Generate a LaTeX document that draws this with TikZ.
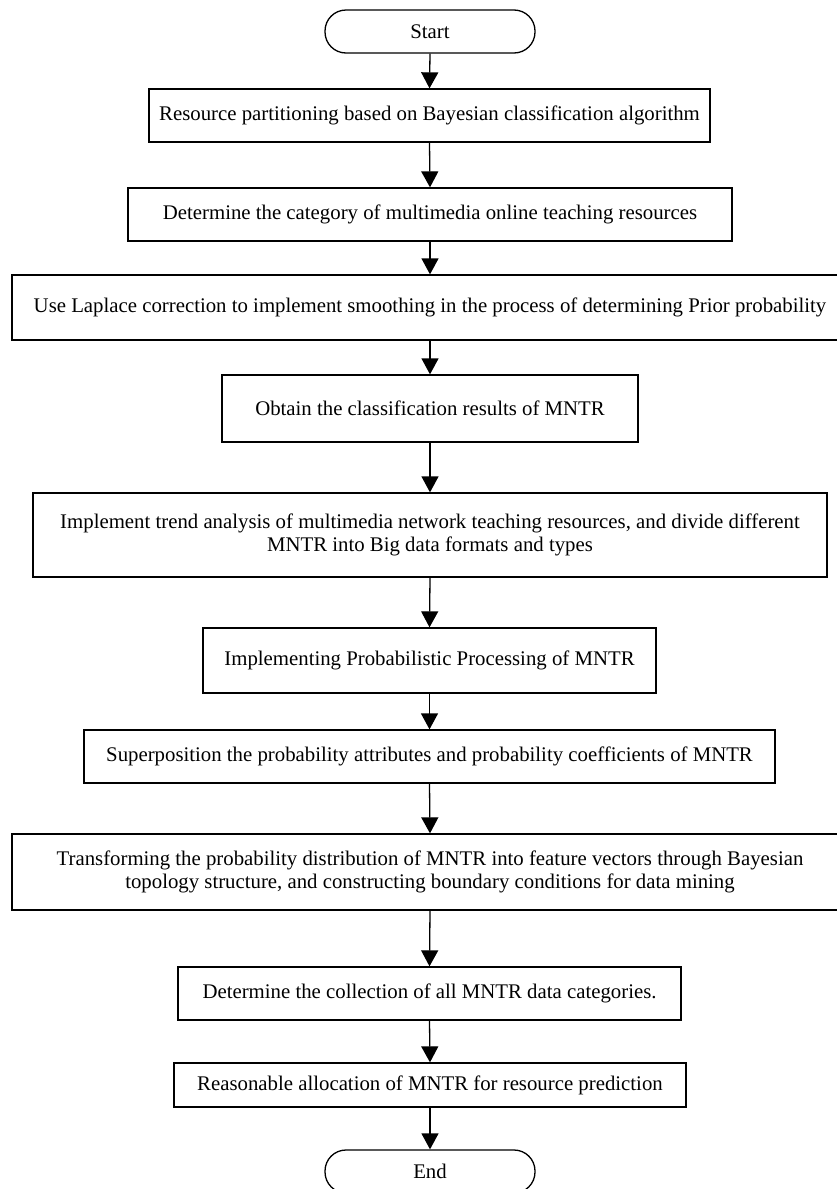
\documentclass[tikz,border=0pt]{standalone}
\usepackage{fontspec}
\setmainfont{Liberation Serif}
\usetikzlibrary{arrows.meta}
\begin{document}
\begin{tikzpicture}[x=1pt,y=-1pt,
  box/.style={draw, line width=1.3pt, inner sep=0pt, align=center, font=\fontsize{20.8}{23.5}\selectfont},
  term/.style={box, rounded corners=21pt},
  arr/.style={-{Triangle[width=17pt,length=16pt]}, line width=1.3pt}]
\useasboundingbox (0,0) rectangle (836,1189);
\node[term, minimum width=210pt, minimum height=43pt] (start) at (430,31.5) {Start};
\node[box, minimum width=561pt, minimum height=53pt] (b1) at (429.5,115.5) {Resource partitioning based on Bayesian classification algorithm};
\node[box, minimum width=604pt, minimum height=53pt] (b2) at (430,214.5) {Determine the category of multimedia online teaching resources};
\node[box, minimum width=836pt, minimum height=65pt] (b3) at (430,307.5) {Use Laplace correction to implement smoothing in the process of determining Prior probability};
\node[box, minimum width=416pt, minimum height=67pt] (b4) at (430,408.5) {Obtain the classification results of MNTR};
\node[box, minimum width=794pt, minimum height=84pt] (b5) at (430,535) {Implement trend analysis of multimedia network teaching resources, and divide different\\MNTR into Big data formats and types};
\node[box, minimum width=453pt, minimum height=65pt] (b6) at (429.5,660.5) {Implementing Probabilistic Processing of MNTR};
\node[box, minimum width=691pt, minimum height=53pt] (b7) at (429.5,756.5) {Superposition the probability attributes and probability coefficients of MNTR};
\node[box, minimum width=836pt, minimum height=76pt] (b8) at (430,872) {Transforming the probability distribution of MNTR into feature vectors through Bayesian\\topology structure, and constructing boundary conditions for data mining};
\node[box, minimum width=503pt, minimum height=53pt] (b9) at (429.5,993.5) {Determine the collection of all MNTR data categories.};
\node[box, minimum width=512pt, minimum height=44pt] (b10) at (430,1085) {Reasonable allocation of MNTR for resource prediction};
\node[term, minimum width=210pt, minimum height=43pt] (end) at (430,1171.5) {End};
\draw[arr] (start.south) -- (b1.north);
\draw[arr] (b1.south) -- (b2.north);
\draw[arr] (b2.south) -- (b3.north);
\draw[arr] (b3.south) -- (b4.north);
\draw[arr] (b4.south) -- (b5.north);
\draw[arr] (b5.south) -- (b6.north);
\draw[arr] (b6.south) -- (b7.north);
\draw[arr] (b7.south) -- (b8.north);
\draw[arr] (b8.south) -- (b9.north);
\draw[arr] (b9.south) -- (b10.north);
\draw[arr] (b10.south) -- (end.north);
\end{tikzpicture}
\end{document}
